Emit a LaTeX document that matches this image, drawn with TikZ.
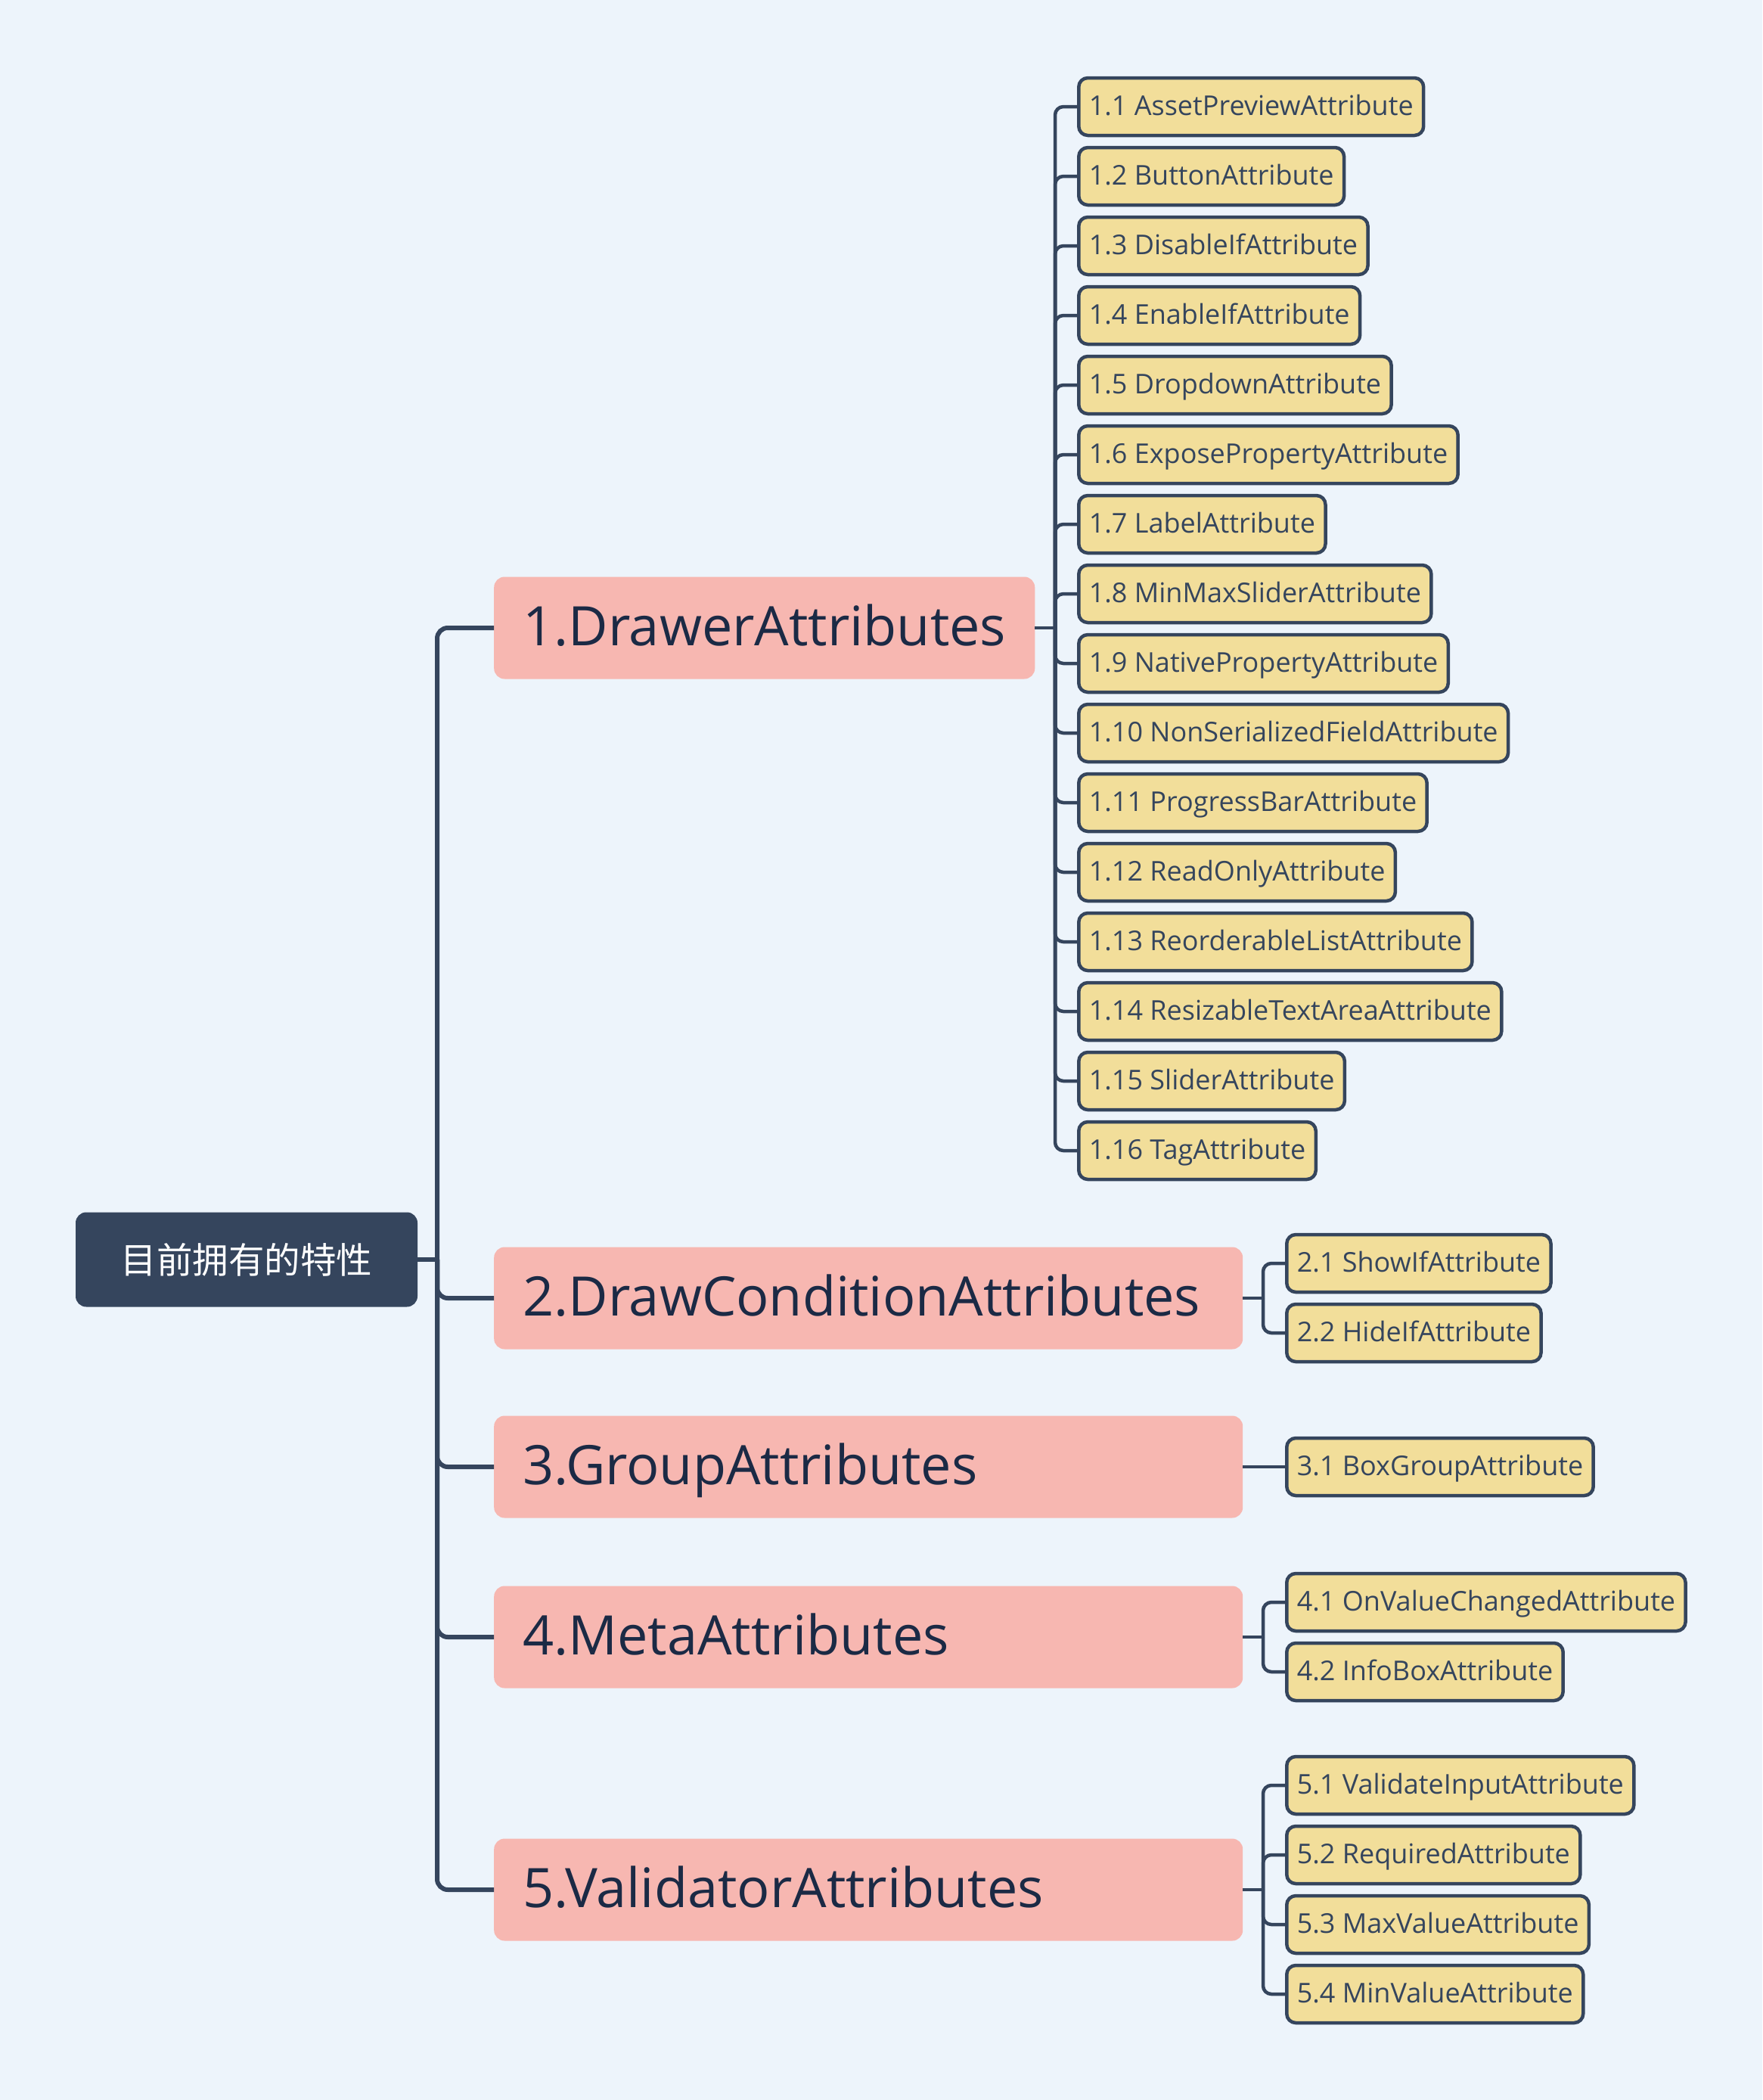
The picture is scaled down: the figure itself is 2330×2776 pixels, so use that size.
\documentclass[tikz,border=0pt]{standalone}
\usepackage{fontspec}
\setmainfont{Open Sans}
\newfontfamily\cjk{Noto Sans CJK SC}
\definecolor{bg}{HTML}{EDF4FB}
\definecolor{navy}{HTML}{35455D}
\definecolor{pinkf}{HTML}{F7B7B1}
\definecolor{yell}{HTML}{F2DE9A}
\definecolor{btext}{HTML}{1B2A45}
\tikzset{
  rootbox/.style={fill=navy, rounded corners=14pt, minimum width=452pt, minimum height=125pt, text=white, font=\cjk\fontsize{47.5}{56}\selectfont, inner sep=0pt},
  branchbox/.style={fill=pinkf, rounded corners=14pt, minimum height=135pt, inner xsep=38pt, inner ysep=0pt, anchor=west, text=btext, font=\fontsize{72}{86}\selectfont, text height=54pt, text depth=6.5pt},
  widebranch/.style={branchbox, text width=914pt, align=left},
  leafbox/.style={fill=yell, draw=navy, line width=4.5pt, rounded corners=12pt, minimum height=76pt, inner xsep=13.5pt, inner ysep=0pt, anchor=west, text=navy, font=\fontsize{36}{43}\selectfont, text height=27pt, text depth=3.2pt},
  trunkline/.style={draw=navy, line width=6pt, rounded corners=14pt},
  twig/.style={draw=navy, line width=4.5pt, rounded corners=11pt},
}
\begin{document}
\begin{tikzpicture}[x=1pt,y=-1pt]
\fill[bg] (0,0) rectangle (2330,2776);
\useasboundingbox (0,0) rectangle (2330,2776);

% root
\node[rootbox] (root) at (326,1665) {目前拥有的特性};

% branches
\node[branchbox] (b1) at (653,830) {1.DrawerAttributes};
\node[widebranch] (b2) at (653,1716) {2.DrawConditionAttributes};
\node[widebranch] (b3) at (653,1939) {3.GroupAttributes};
\node[widebranch] (b4) at (653,2164) {4.MetaAttributes};
\node[widebranch] (b5) at (653,2498) {5.ValidatorAttributes};

% trunk
\coordinate (rj) at (578,1665);
\draw[trunkline] (root.east) -- (rj);
\foreach \b in {b1,b2,b3,b4,b5}{
  \draw[trunkline] (rj) -- (rj |- \b.west) -- (\b.west);
}

% group 1
\coordinate (j1) at (1395,830);
\draw[twig] (b1.east) -- (j1);
\foreach \t [count=\i] in {AssetPreviewAttribute,ButtonAttribute,DisableIfAttribute,EnableIfAttribute,DropdownAttribute,ExposePropertyAttribute,LabelAttribute,MinMaxSliderAttribute,NativePropertyAttribute,NonSerializedFieldAttribute,ProgressBarAttribute,ReadOnlyAttribute,ReorderableListAttribute,ResizableTextAreaAttribute,SliderAttribute,TagAttribute}{
  \node[leafbox] (l1-\i) at (1424,{141+(\i-1)*92}) {1.\i\ \t};
  \draw[twig] (j1) -- (j1 |- l1-\i.west) -- (l1-\i.west);
}

% group 2
\coordinate (j2) at (1670,1716);
\draw[twig] (b2.east) -- (j2);
\node[leafbox] (l2-1) at (1699,1670) {2.1 ShowIfAttribute};
\node[leafbox] (l2-2) at (1699,1762) {2.2 HideIfAttribute};
\foreach \n in {l2-1,l2-2}{
  \draw[twig] (j2) -- (j2 |- \n.west) -- (\n.west);
}

% group 3
\node[leafbox] (l3-1) at (1699,1939) {3.1 BoxGroupAttribute};
\draw[twig] (b3.east) -- (l3-1.west);

% group 4
\coordinate (j4) at (1670,2164);
\draw[twig] (b4.east) -- (j4);
\node[leafbox] (l4-1) at (1699,2118) {4.1 OnValueChangedAttribute};
\node[leafbox] (l4-2) at (1699,2210) {4.2 InfoBoxAttribute};
\foreach \n in {l4-1,l4-2}{
  \draw[twig] (j4) -- (j4 |- \n.west) -- (\n.west);
}

% group 5
\coordinate (j5) at (1670,2498);
\draw[twig] (b5.east) -- (j5);
\node[leafbox] (l5-1) at (1699,2360) {5.1 ValidateInputAttribute};
\node[leafbox] (l5-2) at (1699,2452) {5.2 RequiredAttribute};
\node[leafbox] (l5-3) at (1699,2544) {5.3 MaxValueAttribute};
\node[leafbox] (l5-4) at (1699,2636) {5.4 MinValueAttribute};
\foreach \n in {l5-1,l5-2,l5-3,l5-4}{
  \draw[twig] (j5) -- (j5 |- \n.west) -- (\n.west);
}
\end{tikzpicture}
\end{document}
